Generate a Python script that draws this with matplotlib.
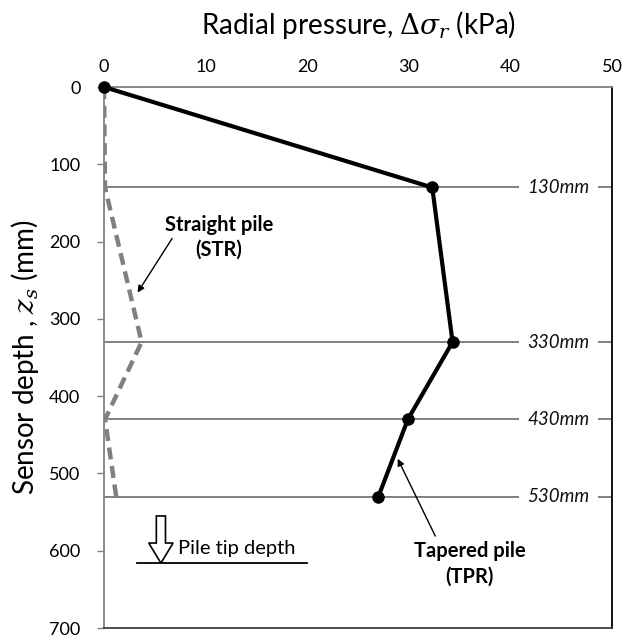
import matplotlib
matplotlib.use('Agg')
import matplotlib.pyplot as plt
from matplotlib.patches import FancyArrow

plt.rcParams['font.family'] = ['Lato', 'DejaVu Sans']
plt.rcParams['mathtext.fontset'] = 'dejavuserif'

# sensor depths (mm) and radial pressure (kPa)
depth = [0, 130, 330, 430, 530]
tpr_pressure = [0, 32.3, 34.3, 29.9, 27.0]
str_pressure = [0, 0.1, 3.7, 0.1, 1.2]
sensor_labels = ['130mm', '330mm', '430mm', '530mm']
sensor_depths = [130, 330, 430, 530]
pile_tip = 616

fig = plt.figure(figsize=(6.25, 6.44), dpi=100)
ax = fig.add_axes([0.1664, 0.0248, 0.813, 0.8401])

# sensor levels with italic labels near the right edge
for d, lab in zip(sensor_depths, sensor_labels):
    ax.axhline(d, color='#808080', lw=1.4, zorder=1)
    ax.text(44.7, d, lab, fontsize=13.5, style='italic', ha='center', va='center',
            color='#111111', zorder=2,
            bbox=dict(boxstyle='square,pad=0.45', fc='white', ec='none'))

ax.plot(str_pressure, depth, color='#808080', lw=3.2, dashes=(2.7, 1.5),
        dash_capstyle='butt', zorder=3)
ax.plot(tpr_pressure, depth, color='black', lw=3, marker='o', ms=8, zorder=4,
        clip_on=False)

# pile labels with leader arrows
ax.text(11.3, 194, 'Straight pile\n(STR)', ha='center', va='center',
        fontsize=14.5, fontweight='bold', linespacing=1.3)
ax.annotate('', xy=(3.3, 266), xytext=(6.7, 196),
            arrowprops=dict(arrowstyle='-|>', color='black', lw=1,
                            shrinkA=0, shrinkB=0))
ax.text(36.0, 617, 'Tapered pile\n(TPR)', ha='center', va='center',
        fontsize=14.5, fontweight='bold', linespacing=1.3)
ax.annotate('', xy=(28.9, 481), xytext=(32.6, 581),
            arrowprops=dict(arrowstyle='-|>', color='black', lw=1,
                            shrinkA=0, shrinkB=0))

# pile tip marker
ax.plot([3.2, 20.0], [pile_tip, pile_tip], color='black', lw=1.3)
ax.add_patch(FancyArrow(5.6, 555, 0, pile_tip - 555, width=0.9, head_width=2.4,
                        head_length=26, length_includes_head=True,
                        fc='white', ec='black', lw=1.2))
ax.text(7.3, 597, 'Pile tip depth', fontsize=14.5, va='center', ha='left')

ax.set_xlim(0, 50)
ax.set_ylim(700, 0)
ax.set_xticks(range(0, 51, 10))
ax.set_yticks(range(0, 701, 100))
ax.xaxis.tick_top()
ax.xaxis.set_label_position('top')
ax.tick_params(axis='x', length=0, pad=9, labelsize=13)
ax.tick_params(axis='y', length=5, width=1, color='#808080', pad=12, labelsize=13)
ax.set_xlabel(r'Radial pressure, $\Delta\sigma_r$ (kPa)', fontsize=20, labelpad=18)
ax.set_ylabel(r'Sensor depth , $z_s$ (mm)', fontsize=20, labelpad=6)

ax.spines['left'].set_color('#808080')
ax.spines['top'].set_color('#808080')
ax.spines['bottom'].set_color('#404040')
ax.spines['right'].set_color('black')
for s in ax.spines.values():
    s.set_linewidth(1.3)

plt.savefig('out.png', dpi=100)
plt.close()
